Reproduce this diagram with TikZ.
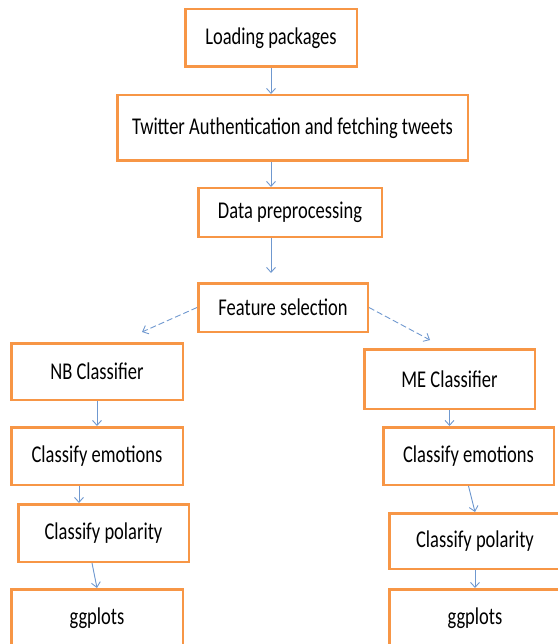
\documentclass[tikz,border=0pt]{standalone}
\usepackage{fontspec}
\setmainfont{Carlito}
\usepackage{graphicx}
\usetikzlibrary{calc,arrows.meta}

\definecolor{boxorange}{HTML}{F79646}
\definecolor{arrowblue}{HTML}{6F98CF}
\newcommand{\tall}[1]{\scalebox{1}[1.3]{#1}}

\tikzset{
  stage/.style={draw=boxorange,line width=2.5pt,fill=white,inner sep=0pt,
    font=\fontsize{18.5}{22}\selectfont},
  flow/.style={arrowblue,line width=0.9pt,-{Straight Barb[length=5pt,width=9pt]}},
  flowdash/.style={flow,dash pattern=on 6pt off 3pt}
}

\begin{document}
\begin{tikzpicture}[x=1pt,y=-1pt]
  \useasboundingbox (0,0) rectangle (557,644);

  \node[stage,minimum width=171.5pt,minimum height=57.5pt] (load) at (271,38) {\tall{Loading packages}};
  \node[stage,minimum width=350.5pt,minimum height=65.5pt] (twit) at (292.5,128) {\tall{Twitter Authentication and fetching tweets}};
  \node[stage,minimum width=183.5pt,minimum height=48.5pt] (prep) at (290,212.5) {\tall{Data preprocessing}};
  \node[stage,minimum width=169.5pt,minimum height=48.5pt] (feat) at (283,307.5) {\tall{Feature selection}};

  \node[stage,minimum width=171.5pt,minimum height=56.5pt] (nb) at (97,371.5) {\tall{NB Classifier}};
  \node[stage,minimum width=171.5pt,minimum height=57.5pt] (emoL) at (97,456) {\tall{Classify emotions}};
  \node[stage,minimum width=170.5pt,minimum height=57.5pt] (polL) at (103.5,533) {\tall{Classify polarity}};
  \node[stage,minimum width=171.5pt,minimum height=57.5pt] (ggL) at (97,618) {\tall{ggplots}};

  \node[stage,minimum width=170.5pt,minimum height=59.5pt] (me) at (449.5,379) {\tall{ME Classifier}};
  \node[stage,minimum width=170.5pt,minimum height=57.5pt] (emoR) at (468.5,456) {\tall{Classify emotions}};
  \node[stage,minimum width=171.5pt,minimum height=55.5pt] (polR) at (475,541) {\tall{Classify polarity}};
  \node[stage,minimum width=171.5pt,minimum height=57.5pt] (ggR) at (475,618) {\tall{ggplots}};

  \coordinate (nbIn) at (142,332);
  \coordinate (meIn) at (430,340);

  % main line
  \draw[flow] (load.south) -- (twit.north -| load);
  \draw[flow] (twit.south -| load) -- (prep.north -| load);
  \draw[flow,shorten >=9pt] (prep.south -| load) -- (feat.north -| load);

  % split to the two classifiers
  \draw[flowdash] (feat.west) -- (nbIn);
  \draw[flowdash] (feat.east) -- (meIn);

  % left branch
  \draw[flow] (nb.south) -- (emoL.north);
  \draw[flow] ([xshift=-18pt]emoL.south) -- ([xshift=-18pt]emoL.south |- polL.north);
  \draw[flow] ([xshift=-11.5pt]polL.south) -- (ggL.north);

  % right branch
  \draw[flow] (me.south) -- (emoR.north -| me);
  \draw[flow] (emoR.south) -- (polR.north);
  \draw[flow] (polR.south) -- (ggR.north);
\end{tikzpicture}
\end{document}
